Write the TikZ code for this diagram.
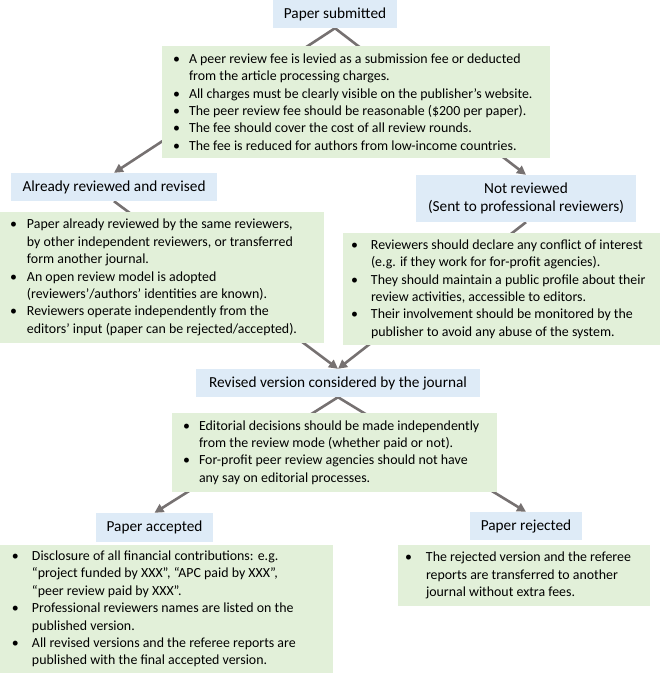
\documentclass[tikz,border=0pt]{standalone}
\usepackage{fontspec}
\setmainfont{Carlito}
\usetikzlibrary{arrows.meta,backgrounds}
\definecolor{bluebox}{HTML}{DEEBF7}
\definecolor{greenbox}{HTML}{E2F0D9}
\definecolor{arrowgray}{HTML}{767171}
\newlength\bgap
\newcommand{\gtext}[4]{\hbox to #1{\hskip #2\setlength\bgap{#3}\vbox{#4}\hss}}
\newcommand{\bu}[1]{\hbox{\hbox to\bgap{•\hss}#1}}
\newcommand{\ct}[1]{\hbox{\hskip\bgap #1}}
\tikzset{
  tbox/.style={fill=bluebox, inner sep=0pt, align=center, text=black,
    font=\fontsize{15.3}{18.3}\selectfont},
  gbox/.style={fill=greenbox, inner sep=0pt, text=black,
    font=\fontsize{13.9}{17.4}\selectfont},
  arr/.style={draw=arrowgray, line width=2.6pt, -{Triangle[length=9pt,width=9pt]}}
}
\begin{document}
\begin{tikzpicture}[x=1pt,y=-1pt]
\useasboundingbox (0,0) rectangle (661,675);
\node[tbox, minimum width=124pt, minimum height=28pt] (b1) at (335,14) {Paper submitted};
\node[gbox, minimum width=388pt, minimum height=112pt] (g1) at (356,102) {\gtext{388pt}{11pt}{16pt}{%
\bu{A peer review fee is levied as a submission fee or deducted}
\ct{from the article processing charges.}
\bu{All charges must be clearly visible on the publisher’s website.}
\bu{The peer review fee should be reasonable (\$200 per paper).}
\bu{The fee should cover the cost of all review rounds.}
\bu{The fee is reduced for authors from low-income countries.}}};
\node[tbox, minimum width=206pt, minimum height=28pt] (b2) at (114,187) {Already reviewed and revised};
\node[tbox, minimum width=220pt, minimum height=47pt] (b3) at (526,198.5) {Not reviewed\\(Sent to professional reviewers)};
\node[gbox, minimum width=324pt, minimum height=131pt] (g2) at (162,277.5) {\gtext{324pt}{10pt}{17pt}{%
\bu{Paper already reviewed by the same reviewers,}
\ct{by other independent reviewers, or transferred}
\ct{form another journal.}
\bu{An open review model is adopted}
\ct{(reviewers’/authors’ identities are known).}
\bu{Reviewers operate independently from the}
\ct{editors’ input (paper can be rejected/accepted).}}};
\node[gbox, minimum width=317pt, minimum height=112pt] (g3) at (501.5,289) {\gtext{317pt}{8pt}{20pt}{%
\bu{Reviewers should declare any conflict of interest}
\ct{(e.g. if they work for for-profit agencies).}
\bu{They should maintain a public profile about their}
\ct{review activities, accessible to editors.}
\bu{Their involvement should be monitored by the}
\ct{publisher to avoid any abuse of the system.}}};
\node[tbox, minimum width=284pt, minimum height=28pt] (b4) at (338,383) {Revised version considered by the journal};
\node[gbox, minimum width=325pt, minimum height=79pt] (g4) at (334.5,452.5) {\gtext{325pt}{11pt}{16pt}{%
\bu{Editorial decisions should be made independently}
\ct{from the review mode (whether paid or not).}
\bu{For-profit peer review agencies should not have}
\ct{any say on editorial processes.}}};
\node[tbox, minimum width=117pt, minimum height=29pt] (b5) at (154.5,527.5) {Paper accepted};
\node[tbox, minimum width=112pt, minimum height=28pt] (b6) at (526,526) {Paper rejected};
\node[gbox, minimum width=333pt, minimum height=128pt] (g5) at (166.5,609) {\gtext{333pt}{12pt}{20pt}{%
\bu{Disclosure of all financial contributions: e.g.}
\ct{“project funded by XXX”, “APC paid by XXX”,}
\ct{“peer review paid by XXX”.}
\bu{Professional reviewers names are listed on the}
\ct{published version.}
\bu{All revised versions and the referee reports are}
\ct{published with the final accepted version.}}};
\node[gbox, minimum width=252pt, minimum height=61pt] (g6) at (524,575.5) {\gtext{252pt}{7pt}{21pt}{%
\bu{The rejected version and the referee}
\ct{reports are transferred to another}
\ct{journal without extra fees.}}};
\begin{pgfonlayer}{background}
\draw[arr] (b1.south) -- (b2.north);
\draw[arr] (b1.south) -- (b3.north);
\draw[arr] (b2.south) -- (b4.north);
\draw[arr] (b3.south) -- (b4.north);
\draw[arr] (b4.south) -- (b5.north);
\draw[arr] (b4.south) -- (b6.north);
\end{pgfonlayer}
\end{tikzpicture}
\end{document}
